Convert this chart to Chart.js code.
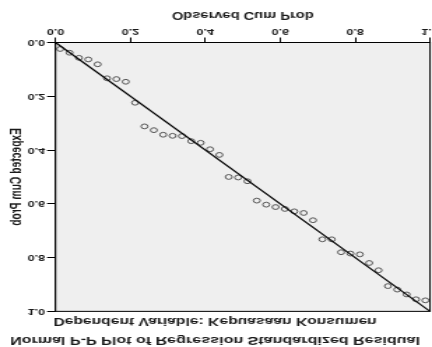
<!DOCTYPE html>
<html>
<head>
<meta charset="utf-8">
<script src="https://cdn.jsdelivr.net/npm/chart.js@4/dist/chart.umd.min.js"></script>
<style>
  html, body { margin:0; padding:0; background:#fff; overflow:hidden; width:432px; height:347px; }
  #wrap { width:309px; height:347px; transform-origin:0 173.5px; transform:scale(1.39806,-1); }
  #c { display:block; }
</style>
</head>
<body>
<div id="wrap"><canvas id="c" width="309" height="347"></canvas></div>
<script>
const titleText = 'Normal P-P Plot of Regression Standardized Residual';
const subtitleText = 'Dependent Variable: Kepuasaan Konsumen';
const xTitle = 'Observed Cum Prob';
const yTitle = 'Expected Cum Prob';
const tickValues = [0, 0.2, 0.4, 0.6, 0.8, 1.0];

const observedCumProb = [
  0.0125, 0.0375, 0.0625, 0.0875, 0.1125, 0.1375, 0.1625, 0.1875, 0.2125, 0.2375,
  0.2625, 0.2875, 0.3125, 0.3375, 0.3625, 0.3875, 0.4125, 0.4375, 0.4625, 0.4875,
  0.5125, 0.5375, 0.5625, 0.5875, 0.6125, 0.6375, 0.6625, 0.6875, 0.7125, 0.7375,
  0.7625, 0.7875, 0.8125, 0.8375, 0.8625, 0.8875, 0.9125, 0.9375, 0.9625, 0.9875
];
const expectedCumProb = [
  0.024, 0.038, 0.057, 0.063, 0.081, 0.133, 0.136, 0.146, 0.224, 0.312,
  0.326, 0.343, 0.347, 0.348, 0.367, 0.373, 0.397, 0.418, 0.500, 0.502,
  0.516, 0.588, 0.603, 0.612, 0.619, 0.628, 0.634, 0.661, 0.732, 0.732,
  0.780, 0.785, 0.788, 0.820, 0.847, 0.906, 0.919, 0.937, 0.955, 0.959
];
const refLineX = [0, 1];
const refLineY = [0, 1];

const FONT = '"Liberation Sans", Arial, sans-serif';
const TXT = '#1a1a1a';

const framePlugin = {
  id: 'frame',
  beforeDraw(chart) {
    const {ctx, chartArea:a} = chart;
    ctx.save();
    ctx.fillStyle = '#efefef';
    ctx.fillRect(a.left, a.top, a.right - a.left, a.bottom - a.top);
    ctx.restore();
  },
  afterDraw(chart) {
    const {ctx, chartArea:a} = chart;
    ctx.save();
    ctx.strokeStyle = '#000';
    ctx.lineWidth = 1;
    ctx.strokeRect(a.left, a.top, a.right - a.left, a.bottom - a.top);
    ctx.restore();
  }
};

const axisCommon = (titleTextStr, tickLen, tickPad, titlePad) => ({
  type: 'linear',
  min: 0,
  max: 1,
  afterBuildTicks: (s) => { s.ticks = tickValues.map(v => ({value: v})); },
  ticks: {
    callback: (v) => Number(v).toFixed(1),
    font: {family: FONT, size: 9, weight: 'bold'},
    color: TXT,
    padding: tickPad,
    maxRotation: 0,
    autoSkip: false
  },
  grid: {
    display: true,
    drawOnChartArea: false,
    drawTicks: true,
    tickLength: tickLen,
    color: '#000',
    tickColor: '#000',
    tickWidth: 1
  },
  border: {display: true, color: '#000', width: 1},
  title: {
    display: true,
    text: titleTextStr,
    color: TXT,
    font: {family: FONT, size: 10.5, weight: 'bold'},
    padding: titlePad
  }
});

const xScale = axisCommon(xTitle, 5, 0.3, {top: 0, bottom: 8.7});
xScale.position = 'bottom';
xScale.afterFit = (s) => { s.paddingRight = 0; s.paddingLeft = 0; s.height = 42.5; };

const yScale = axisCommon(yTitle, 6, 1.5, {top: 6, bottom: 0});
yScale.position = 'left';
yScale.title.font = {family: FONT, size: 10.3, weight: 'bold'};
yScale.afterFit = (s) => { s.width = 39.7; s.paddingTop = 0; s.paddingBottom = 0; };

new Chart(document.getElementById('c'), {
  type: 'scatter',
  data: {
    datasets: [
      {
        type: 'line',
        data: refLineX.map((x, i) => ({x, y: refLineY[i]})),
        borderColor: '#000',
        borderWidth: 1.2,
        pointRadius: 0,
        fill: false,
        order: 0
      },
      {
        data: observedCumProb.map((x, i) => ({x, y: expectedCumProb[i]})),
        pointRadius: 2.4,
        pointBorderWidth: 1,
        pointBorderColor: '#555',
        pointBackgroundColor: 'rgba(0,0,0,0)',
        showLine: false,
        order: 1
      }
    ]
  },
  options: {
    responsive: false,
    animation: false,
    devicePixelRatio: 1,
    events: [],
    layout: {autoPadding: false, padding: {left: 0, right: 1.4, top: 0, bottom: 0}},
    plugins: {
      legend: {display: false},
      tooltip: {enabled: false},
      title: {
        display: true,
        text: titleText,
        color: TXT,
        font: {family: FONT, size: 11.5, weight: 'bold'},
        padding: {top: 0, bottom: 3}
      },
      subtitle: {
        display: true,
        text: subtitleText,
        color: TXT,
        font: {family: FONT, size: 11.2, weight: 'bold'},
        padding: {top: 2.3, bottom: 3.1}
      }
    },
    scales: {x: xScale, y: yScale}
  },
  plugins: [framePlugin]
});
</script>
</body>
</html>
